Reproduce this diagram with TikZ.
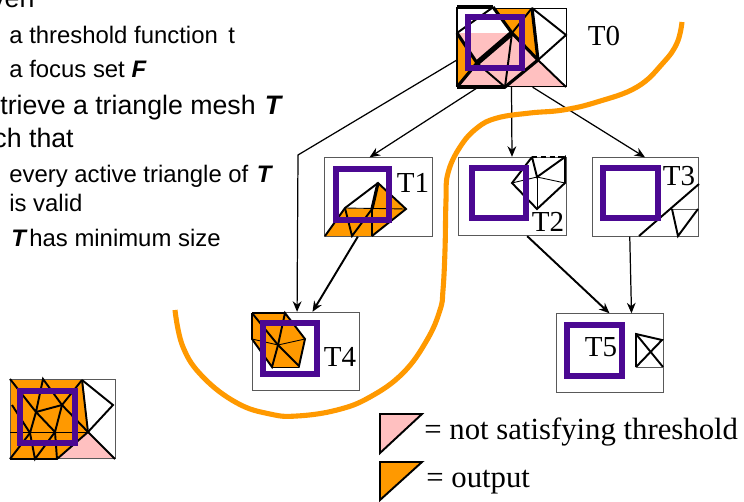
\documentclass[tikz,border=0pt]{standalone}
\usepackage{fontspec}
\setmainfont{Liberation Serif}
\newfontfamily\bodyfont{Liberation Sans}
\usepackage{tikz}
\usetikzlibrary{calc,arrows.meta}
\definecolor{outorange}{RGB}{255,153,0}
\definecolor{badpink}{RGB}{255,192,192}
\definecolor{focuspurple}{RGB}{75,8,146}
\tikzstyle{meshbox}=[draw=black!65, line width=0.5pt, inner sep=0pt, minimum height=1.57cm]
\tikzstyle{focusbox}=[draw=focuspurple, line width=2.9pt, line join=miter]
\tikzstyle{thinedge}=[line width=0.5pt]
\tikzstyle{midedge}=[line width=1.1pt]
\tikzstyle{thickedge}=[line width=1.8pt]
\tikzstyle{fatedge}=[line width=3pt]
\tikzstyle{treearrow}=[-{Stealth[length=6pt,width=5pt]}, line width=0.7pt]
\tikzstyle{regioncurve}=[draw=outorange, line width=2.9pt]
\tikzstyle{tlabel}=[inner sep=0pt, font=\fontsize{16.5}{18}\selectfont]
\tikzstyle{legendtxt}=[inner sep=0pt, anchor=base west, font=\fontsize{17.5}{19}\selectfont]
\tikzstyle{smalltxt}=[inner sep=0pt, anchor=base west, font=\bodyfont\fontsize{13.6}{16}\selectfont]
\tikzstyle{bigtxt}=[inner sep=0pt, anchor=base west, font=\bodyfont\fontsize{15.2}{18}\selectfont]
\begin{document}
\begin{tikzpicture}[x=0.02cm,y=-0.02cm]
\useasboundingbox (0,0) rectangle (744,501);
% text on the left
\node[bigtxt] (given) at (-9,7) {ven};
\node[smalltxt] (thresh) at (9,43) {a threshold function\hspace{6pt}t};
\node[smalltxt] (fset) at (9,77) {a focus set \textbf{\textit{F}}};
\node[bigtxt] (retrieve) at (0,114) {trieve a triangle mesh \hspace{1pt}\textbf{\textit{T}}};
\node[bigtxt, anchor=base east] (such) at (74,147) {ch that};
\node[smalltxt] (active) at (9,182) {every active triangle of \hspace{1pt}\textbf{\textit{T}}};
\node[smalltxt] (valid) at (9,211) {is valid};
\node[smalltxt] (size) at (11,246) {\textbf{\textit{T}}\hspace{1pt}has minimum size};
% fills
\fill[badpink] (457,33) -- (510,33) -- (538,60) -- (566,87) -- (457,87) -- cycle;
\fill[outorange] (495,8) -- (532,8) -- (538,60) -- (512,33) -- cycle;
\fill[outorange] (457,33) -- (477,63) -- (457,87) -- cycle;
\fill[outorange] (325,236) -- (345,208) -- (378,183) -- (406,209) -- (372,236) -- cycle;
\fill[white] (345,208) -- (378,183) -- (372,209) -- cycle;
\fill[outorange] (252,313) -- (285,313) -- (305,339) -- (298,367) -- (272,367) -- (252,339) -- cycle;
\fill[outorange] (10,379) -- (83,379) -- (88,432) -- (57,459) -- (10,459) -- cycle;
\fill[badpink] (88,432) -- (115,459) -- (57,459) -- cycle;
% boxes
\node[meshbox, draw=black, minimum width=2.18cm] (t0) at (511.5,47.5) {};
\node[meshbox, minimum width=2.16cm] (t1) at (378,197) {};
\node[meshbox, minimum width=2.16cm] (t2) at (512,196.5) {};
\node[meshbox, minimum width=2.12cm] (t3) at (645,197) {};
\node[meshbox, minimum width=2.14cm] (t4) at (305.5,351.5) {};
\node[meshbox, minimum width=2.14cm] (t5) at (609.5,353) {};
\node[meshbox, minimum width=2.1cm] (merged) at (62.5,419) {};
% T0
\coordinate (a) at (457,7);
\coordinate (b) at (493,7);
\coordinate (c) at (532,8);
\coordinate (e) at (566,35);
\coordinate (f) at (538,60);
\coordinate (g) at (512,33);
\coordinate (h) at (477,63);
\coordinate (i) at (457,33);
\coordinate (j) at (457,87);
\coordinate (k) at (505,87);
\coordinate (l) at (566,87);
\draw[thickedge] (a) -- (b);
\draw[midedge] (a) -- (j);
\draw[midedge] (i) -- (492,8);
\draw[thickedge] (b) -- (g);
\draw[midedge] (g) -- (c);
\draw[thickedge] (c) -- (f);
\draw[midedge] (c) -- (e) -- (f);
\draw[midedge] (f) -- (l);
\draw[thickedge] (g) -- (f);
\draw[fatedge] (h) -- (g);
\draw[thickedge] (i) -- (h) -- (j);
\draw[midedge] (h) -- (k) -- (g);
\draw[thickedge] (k) -- (f);
\draw[thickedge] (j) -- (k);
% T1
\draw[midedge] (325,236) -- (345,208) -- (378,183) -- (406,209) -- (372,236);
\draw[thickedge] (378,183) -- (372,209);
\draw[thinedge] (345,208) -- (406,209);
\draw[midedge] (345,208) -- (352,236) -- (372,209) -- (372,236);
% T2
\draw[midedge] (532,157) -- (537,177) -- (565,157) -- (565,183) -- (537,209) -- (512,183) -- (532,157);
\draw[thinedge] (512,183) -- (537,177) -- (565,183);
\draw[thinedge] (537,177) -- (537,209);
\draw[midedge, densely dashed] (532,157) -- (565,157);
% T3
\draw[midedge] (639,236) -- (699,184);
\draw[thinedge, draw=black!65] (672,209) -- (698,209);
\draw[midedge] (672,209) -- (678,236) -- (698,209);
% T4
\draw[midedge] (252,313) -- (285,313);
\draw[midedge] (252,313) -- (252,339) -- (272,367) -- (278,345) -- (252,313);
\draw[midedge] (285,313) -- (305,339) -- (299,366) -- (278,345) -- cycle;
\draw[thinedge] (252,339) -- (278,345) -- (305,339);
\draw[thinedge] (272,367) -- (299,367);
% T5
\draw[midedge] (636,367) -- (636,334) -- (662,340) -- (636,367);
\draw[midedge] (636,334) -- (663,367);
\draw[thinedge, draw=black!65] (636,367) -- (663,367);
% merged mesh
\coordinate (ma) at (82,380);
\coordinate (mb) at (88,432);
\coordinate (mc) at (113,405);
\coordinate (md) at (57,459);
\coordinate (m1) at (36,412);
\coordinate (m2) at (62,405);
\coordinate (m3) at (30,433);
\coordinate (m4) at (55,432);
\coordinate (m5) at (35,459);
\draw[midedge] (ma) -- (mc) -- (mb) -- (115,459);
\draw[midedge] (ma) -- (mb) -- (md) -- (10,459);
\draw[midedge] (10,379) -- (m1) -- (43,379) -- (m2) -- (ma);
\draw[midedge] (m2) -- (mb);
\draw[midedge] (m2) -- (m4) -- (m1) -- (m3) -- (12,405);
\draw[midedge] (m1) -- (m2);
\draw[midedge] (m3) -- (m5) -- (m4) -- (md);
\draw[midedge] (m3) -- (10,459);
\draw[thinedge] (10,432) -- (mb);
% focus sets
\draw[focusbox] (468,17) rectangle (522,68);
\draw[focusbox] (336,169) rectangle (389,220);
\draw[focusbox] (472,168) rectangle (526,218);
\draw[focusbox] (603,168) rectangle (658,218);
\draw[focusbox] (263,323) rectangle (317,374);
\draw[focusbox] (567,325) rectangle (622,376);
\draw[focusbox] (20,391) rectangle (75,443);
% tree
\coordinate (bend) at (298,155);
\draw[treearrow] (t0.193) -- (bend) -- (t4.102);
\draw[treearrow] (t0.230) -- (t1.102);
\draw[treearrow] (t0.south) -- (t2.north);
\draw[treearrow] (t0.-62.6) -- (t3.north);
\draw[treearrow, line width=1.1pt] (t1.243) -- (t4.80.6);
\draw[treearrow, line width=1.1pt] (t2.-69) -- (t5.north);
\draw[treearrow] (t3.249) -- (t5.61.6);
% labels
\node[tlabel] (lab0) at (604,36) {T0};
\node[tlabel] (lab1) at (413,183) {T1};
\node[tlabel] (lab2) at (548,222) {T2};
\node[tlabel] (lab3) at (679,176) {T3};
\node[tlabel] (lab4) at (340,357) {T4};
\node[tlabel] (lab5) at (601,347) {T5};
% resolution curve
\draw[regioncurve] plot[smooth, tension=0.7] coordinates {(682,22) (677,43) (663,63) (637,87) (597,102) (563,110) (530,113) (497,118) (477,128) (460,147) (448,173) (446,200) (445,250) (443,290) (440,310) (427,340) (403,373) (370,397) (337,410) (297,416) (270,414) (237,403) (203,377) (183,347) (175,310)};
% legend
\draw[midedge, fill=badpink] (380,453) -- (380,414) -- (422,414) -- cycle;
\draw[midedge, fill=outorange] (380,500) -- (380,462) -- (422,462) -- cycle;
\node[legendtxt] (notsat) at (424,439) {= not satisfying threshold};
\node[legendtxt] (output) at (426,487) {= output};
\end{tikzpicture}
\end{document}
